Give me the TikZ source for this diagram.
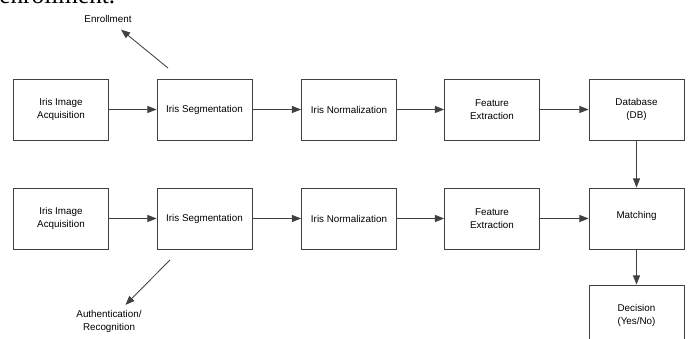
\documentclass[tikz,border=0pt]{standalone}
\usepackage{fontspec}
\setmainfont{Liberation Serif}
\setsansfont{Liberation Sans}
\usepackage{tikz}
\usetikzlibrary{calc}
\usetikzlibrary{arrows,arrows.meta}

\tikzset{
  stage/.style={draw=black!75, line width=0.6pt, minimum width=2.375cm, minimum height=1.525cm,
    align=center, font=\sffamily\fontsize{7}{9}\selectfont},
  lbl/.style={align=center, inner sep=1pt, font=\sffamily\fontsize{7}{9}\selectfont},
  flow/.style={draw=black!75, line width=0.6pt, -{Triangle[length=6.5pt,width=5pt]}}
}

\begin{document}
\begin{tikzpicture}[x=0.025cm, y=0.025cm]
    \useasboundingbox (0,0) rectangle (688,339);
    \begin{scope}
    \clip (0,0) rectangle (688,339);
    \node[anchor=base west, inner sep=0pt, font=\fontsize{18}{20}\selectfont] (txt) at (-1,335) {enrollment.};

    % enrollment row
    \node[stage] (A1) at (61,229.5)    {Iris Image\\Acquisition};
    \node[stage] (B1) at (204.5,229.5) {Iris Segmentation};
    \node[stage] (C1) at (349,229.5)   {Iris Normalization};
    \node[stage] (D1) at (492,229.5)   {Feature\\Extraction};
    \node[stage] (E1) at (636.5,229.5) {Database\\(DB)};

    % authentication row
    \node[stage] (A2) at (61,120.5)    {Iris Image\\Acquisition};
    \node[stage] (B2) at (204.5,120.5) {Iris Segmentation};
    \node[stage] (C2) at (349,120.5)   {Iris Normalization};
    \node[stage] (D2) at (492,120.5)   {Feature\\Extraction};
    \node[stage] (E2) at (636.5,120.5) {\raisebox{1.2ex}{Matching}};
    \node[stage] (F2) at (636.5,23.5)  {Decision\\(Yes/No)};

    \node[lbl] (enr) at (108,320) {Enrollment};
    \node[lbl] (auth) at (109,17.5) {Authentication/\\Recognition};
    \coordinate (up) at (168,271);
    \coordinate (down) at (170,79);

    \draw[flow] (A1) -- (B1);
    \draw[flow] (B1) -- (C1);
    \draw[flow] (C1) -- (D1);
    \draw[flow] (D1) -- (E1);
    \draw[flow] (A2) -- (B2);
    \draw[flow] (B2) -- (C2);
    \draw[flow] (C2) -- (D2);
    \draw[flow] (D2) -- (E2);
    \draw[flow] (E1) -- (E2);
    \draw[flow] (E2) -- (F2);
    \draw[flow, shorten >=6pt] (up) -- (enr);
    \draw[flow, shorten >=4pt] (down) -- (auth);
    \end{scope}
  \end{tikzpicture}
\end{document}
